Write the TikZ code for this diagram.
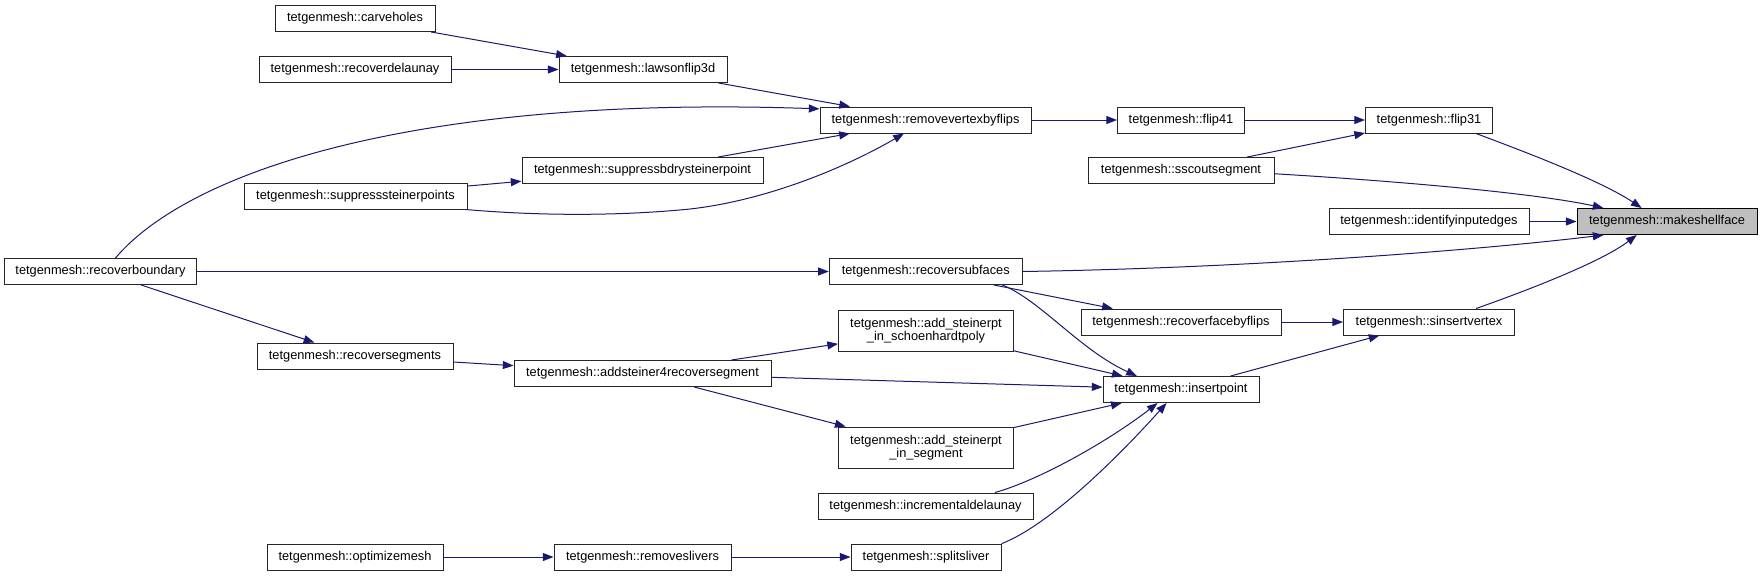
\documentclass[tikz,border=0pt]{standalone}
\usepackage{fontspec}
\setmainfont{Liberation Sans}
\usetikzlibrary{arrows.meta}
\definecolor{AzulArista}{RGB}{25,25,112}
\definecolor{GrisNodo}{RGB}{191,191,191}

\begin{document}
\begin{tikzpicture}[x=0.75pt,y=-0.75pt,
  fn/.style={draw=black!85,line width=0.75pt,fill=white,inner sep=0pt,
    minimum height=19.5pt,minimum width=#1,font=\fontsize{9.6}{10}\selectfont},
  fntwo/.style={fn=#1,minimum height=30.75pt,align=center},
  edge/.style={draw=AzulArista,line width=0.75pt,-{Triangle[length=8pt,width=6pt]}}]
  \useasboundingbox (0,0) rectangle (1763,576);
  % nodes
  \node[fn=120pt] (carve) at (355,18.5) {tetgenmesh::carveholes};
  \node[fn=144pt] (recdel) at (355,69.5) {tetgenmesh::recoverdelaunay};
  \node[fn=126pt] (lawson) at (643,69.5) {tetgenmesh::lawsonflip3d};
  \node[fn=158.25pt] (rmvert) at (925.5,120) {tetgenmesh::removevertexbyflips};
  \node[fn=95.25pt] (flipfo) at (1181,120) {tetgenmesh::flip41};
  \node[fn=95.25pt] (flipth) at (1429,120) {tetgenmesh::flip31};
  \node[fn=180.75pt] (bdry) at (642.5,170.5) {tetgenmesh::suppressbdrysteinerpoint};
  \node[fn=139.5pt] (sscout) at (1181,170.5) {tetgenmesh::sscoutsegment};
  \node[fn=167.25pt] (supst) at (355.5,196) {tetgenmesh::suppresssteinerpoints};
  \node[fn=150pt] (ident) at (1429,221.5) {tetgenmesh::identifyinputedges};
  \node[fn=135pt,fill=GrisNodo,draw=black] (shell) at (1667,221.5) {tetgenmesh::makeshellface};
  \node[fn=144pt] (recbd) at (100.5,271.5) {tetgenmesh::recoverboundary};
  \node[fn=144.75pt] (recsub) at (925.75,271.5) {tetgenmesh::recoversubfaces};
  \node[fn=150pt] (recface) at (1181,322) {tetgenmesh::recoverfacebyflips};
  \node[fn=128.25pt] (sins) at (1429,322) {tetgenmesh::sinsertvertex};
  \node[fntwo=131.25pt] (schoen) at (926,330.5) {tetgenmesh::add\_steinerpt\\\_in\_schoenhardtpoly};
  \node[fn=147pt] (recseg) at (355,356) {tetgenmesh::recoversegments};
  \node[fn=192.75pt] (addst) at (642.5,373.5) {tetgenmesh::addsteiner4recoversegment};
  \node[fn=117pt] (insp) at (1181,389.5) {tetgenmesh::insertpoint};
  \node[fntwo=131.25pt] (inseg) at (926,447.5) {tetgenmesh::add\_steinerpt\\\_in\_segment};
  \node[fn=161.25pt] (incdel) at (925.5,506) {tetgenmesh::incrementaldelaunay};
  \node[fn=132pt] (optim) at (355,557) {tetgenmesh::optimizemesh};
  \node[fn=132.75pt] (rmsliv) at (642.5,557) {tetgenmesh::removeslivers};
  \node[fn=112.5pt] (split) at (926,557) {tetgenmesh::splitsliver};
  % calls
  \draw[edge] (carve) -- (lawson);
  \draw[edge] (recdel) -- (lawson);
  \draw[edge] (lawson) -- (rmvert);
  \draw[edge] (recbd.42) .. controls (190,170) and (420,95) .. (rmvert.174);
  \draw[edge] (bdry) -- (rmvert);
  \draw[edge] (supst) -- (bdry);
  \draw[edge] (supst.-7) .. controls (540,216) and (620,216) .. (690,209)
    .. controls (770,200) and (850,165) .. (rmvert.212);
  \draw[edge] (rmvert) -- (flipfo);
  \draw[edge] (flipfo) -- (flipth);
  \draw[edge] (sscout) -- (flipth);
  \draw[edge] (flipth.-16) .. controls (1520,150) and (1600,180) .. (shell.152);
  \draw[edge] (sscout.-2) .. controls (1380,180) and (1530,192) .. (shell.168);
  \draw[edge] (ident) -- (shell);
  \draw[edge] (recsub.east) .. controls (1250,268) and (1480,250) .. (shell.192);
  \draw[edge] (sins.16) .. controls (1520,293) and (1600,263) .. (shell.204);
  \draw[edge] (recbd) -- (recsub);
  \draw[edge] (recbd) -- (recseg);
  \draw[edge] (recsub) -- (recface);
  \draw[edge] (recsub.-10) .. controls (1040,300) and (1080,350) .. (insp.163);
  \draw[edge] (recface) -- (sins);
  \draw[edge] (insp) -- (sins);
  \draw[edge] (recseg) -- (addst);
  \draw[edge] (addst) -- (schoen);
  \draw[edge] (addst) -- (insp);
  \draw[edge] (addst) -- (inseg);
  \draw[edge] (schoen) -- (insp);
  \draw[edge] (inseg) -- (insp);
  \draw[edge] (incdel.11) .. controls (1040,480) and (1110,440) .. (insp.210);
  \draw[edge] (split.10) .. controls (1050,525) and (1120,455) .. (insp.223);
  \draw[edge] (optim) -- (rmsliv);
  \draw[edge] (rmsliv) -- (split);
\end{tikzpicture}
\end{document}
